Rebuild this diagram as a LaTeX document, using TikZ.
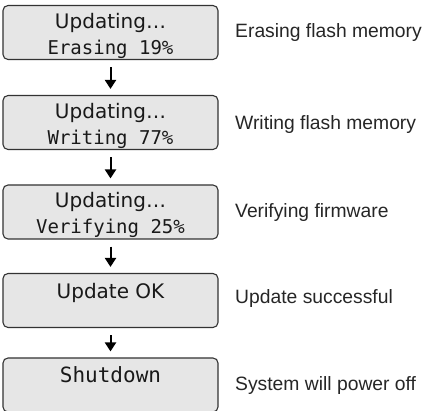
\documentclass[tikz,border=0pt]{standalone}
\usepackage{fontspec}
\usetikzlibrary{positioning,arrows.meta}

\newfontfamily\lcdsans{DejaVu Sans}
\newfontfamily\lcdmono{DejaVu Sans Mono}
\newfontfamily\notefont{Liberation Sans}

\definecolor{lcdfill}{HTML}{E6E6E6}
\definecolor{lcdline}{HTML}{333333}

% extra room above the first display line
\newcommand{\lcdtop}{\rule{0pt}{22pt}}

\tikzset{
  lcdbox/.style={draw=lcdline, fill=lcdfill, line width=1.1pt, rounded corners=5pt,
    minimum width=215pt, minimum height=54pt, inner sep=0pt, align=center,
    font=\fontsize{19}{26}\selectfont, text=black!90},
  notetext/.style={anchor=west, inner sep=0pt, font=\notefont\fontsize{19.3}{22}\selectfont, text=black!85},
  steparrow/.style={arrows={-{Triangle[length=9pt,width=11pt]}}, line width=2pt,
    shorten <=7pt, shorten >=6pt}
}

\begin{document}
\begin{tikzpicture}[x=1pt, y=-1pt]
	\useasboundingbox (0,0) rectangle (432,411);

	\node[lcdbox] (AA) at (110.5,32.5) {{\lcdtop\lcdsans\fontsize{20}{26}\selectfont Updating…}\\{\lcdmono Erasing 19\%}};
	\node[lcdbox] (BB) at (110.5,122.5) {{\lcdtop\lcdsans\fontsize{20}{26}\selectfont Updating…}\\{\lcdmono Writing 77\%}};
	\node[lcdbox] (CC) at (110.5,212) {{\lcdtop\lcdsans\fontsize{20}{26}\selectfont Updating…}\\{\lcdmono Verifying 25\%}};
	\node[lcdbox] (DD) at (110.5,300.5) {{\lcdtop\lcdsans\fontsize{20}{26}\selectfont Update OK}\\\mbox{}};
	\node[lcdbox] (EE) at (110.5,385) {{\lcdtop\lcdmono\fontsize{21}{26}\selectfont Shutdown}\\\mbox{}};

	\node[notetext] (FF) at (235,33) {Erasing flash memory};
	\node[notetext] (GG) at (235,125) {Writing flash memory};
	\node[notetext] (HH) at (235,213) {Verifying firmware};
	\node[notetext] (II) at (235,299) {Update successful};
	\node[notetext] (JJ) at (235,386) {System will power off};

	\draw [steparrow] (AA) -- (BB);
	\draw [steparrow] (BB) -- (CC);
	\draw [steparrow] (CC) -- (DD);
	\draw [steparrow] (DD) -- (EE);
\end{tikzpicture}
\end{document}
